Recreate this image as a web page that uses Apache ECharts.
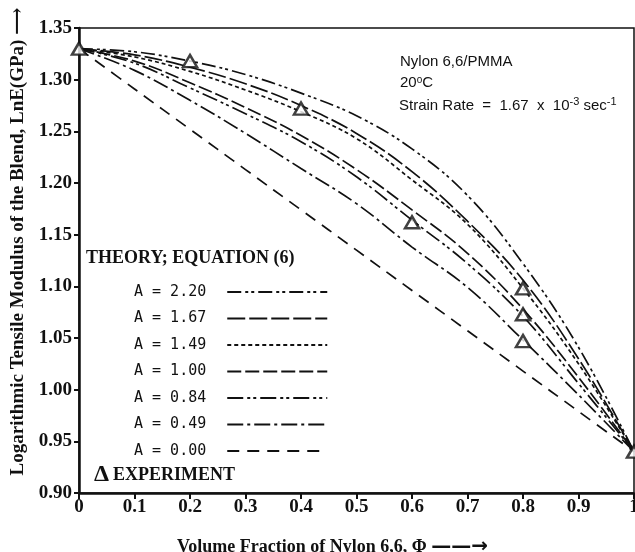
<!DOCTYPE html>
<html>
<head>
<meta charset="utf-8">
<script src="https://cdn.jsdelivr.net/npm/echarts@6/dist/echarts.min.js"></script>
<style>
html,body{margin:0;padding:0;background:#fff;}
#c{width:635px;height:552px;}
</style>
</head>
<body>
<div id="c"></div>
<script>
// Volume fraction of Nylon 6,6
const phi = [0, 0.1, 0.2, 0.3, 0.4, 0.5, 0.6, 0.7, 0.8, 0.9, 1.0];
// Theory curves, ln E (GPa)
const A220 = [1.330, 1.327, 1.318, 1.305, 1.287, 1.265, 1.233, 1.188, 1.122, 1.041, 0.940];
const A167 = [1.330, 1.324, 1.312, 1.296, 1.275, 1.248, 1.211, 1.163, 1.106, 1.030, 0.940];
const A149 = [1.330, 1.322, 1.308, 1.290, 1.269, 1.243, 1.203, 1.160, 1.098, 1.025, 0.940];
const A100 = [1.330, 1.318, 1.297, 1.273, 1.246, 1.213, 1.174, 1.132, 1.078, 1.012, 0.940];
const A084 = [1.330, 1.316, 1.292, 1.267, 1.240, 1.206, 1.164, 1.122, 1.071, 1.006, 0.940];
const A049 = [1.330, 1.309, 1.280, 1.248, 1.214, 1.180, 1.138, 1.099, 1.048, 0.995, 0.940];
const A000 = [1.330, 1.291, 1.252, 1.213, 1.174, 1.135, 1.096, 1.057, 1.018, 0.979, 0.940];
// Experiment
const expX = [0, 0.2, 0.4, 0.6, 0.8, 0.8, 0.8, 1.0];
const expY = [1.330, 1.318, 1.272, 1.162, 1.098, 1.073, 1.047, 0.940];
// labels
const curveNames = ['A = 2.20', 'A = 1.67', 'A = 1.49', 'A = 1.00', 'A = 0.84', 'A = 0.49', 'A = 0.00'];
const curveData = [A220, A167, A149, A100, A084, A049, A000];
const dashes = [[14,4,3,3,3,4],[18,4],[4,3],[14,4],[16,4,3,3,3,4],[16,4,3,4],[12,8]];

const serif = "'Liberation Serif','Times New Roman','DejaVu Serif',serif";
const sans = "'Liberation Sans',Arial,sans-serif";

const series = curveNames.map((n, i) => ({
  name: n,
  type: 'line',
  smooth: 0.4,
  symbol: 'none',
  data: phi.map((x, k) => [x, curveData[i][k]]),
  lineStyle: { color: '#111', width: 1.7, type: dashes[i] },
  itemStyle: { color: '#111' },
  z: 2
}));
series.push({
  name: 'EXPERIMENT',
  type: 'scatter',
  symbol: 'triangle',
  symbolSize: [14, 12],
  data: expX.map((x, k) => [x, expY[k]]),
  itemStyle: { color: '#fff', borderColor: '#111', borderWidth: 2.5 },
  z: 5
});

const chart = echarts.init(document.getElementById('c'));
chart.setOption({
  animation: false,
  backgroundColor: '#fff',
  grid: { left: 79, right: 1, top: 28, bottom: 59, outerBoundsMode: 'none', containLabel: false, show: true, borderColor: '#111', borderWidth: 1.5, backgroundColor: 'transparent' },
  xAxis: {
    type: 'value', min: 0, max: 1, interval: 0.1,
    axisLine: { lineStyle: { color: '#111', width: 2.5 } },
    axisTick: { show: true, length: 6, lineStyle: { color: '#111', width: 2 } },
    splitLine: { show: false },
    axisLabel: {
      color: '#111', fontFamily: serif, fontWeight: 'bold', fontSize: 19, margin: 5,
      formatter: v => (v === 0 ? '0' : (Math.abs(v - 1) < 1e-9 ? '1' : v.toFixed(1)))
    },
    name: '{t|Volume Fraction of Nylon 6,6, \u03A6} {a|\u2014\u2014\u2192}',
    nameLocation: 'middle', nameGap: 44,
    nameTextStyle: {
      color: '#111', fontFamily: serif, fontWeight: 'bold', fontSize: 18, padding: [0, 48, 0, 0],
      rich: {
        t: { color: '#111', fontFamily: serif, fontWeight: 'bold', fontSize: 18 },
        a: { color: '#111', fontFamily: "'DejaVu Sans',sans-serif", fontSize: 20, lineHeight: 20 }
      }
    }
  },
  yAxis: {
    type: 'value', min: 0.9, max: 1.35, interval: 0.05,
    axisLine: { show: true, lineStyle: { color: '#111', width: 2.5 } },
    axisTick: { show: true, length: 5, lineStyle: { color: '#111', width: 2 } },
    splitLine: { show: false },
    axisLabel: {
      color: '#111', fontFamily: serif, fontWeight: 'bold', fontSize: 19, margin: 7,
      formatter: v => v.toFixed(2)
    },
    name: 'Logarithmic Tensile Modulus of the Blend, LnE(GPa) \u27F6',
    nameLocation: 'middle', nameGap: 47, nameRotate: 90,
    nameTextStyle: { color: '#111', fontFamily: serif, fontWeight: 'bold', fontSize: 19, padding: [0, 0, 0, 38] }
  },
  legend: {
    data: curveNames,
    orient: 'vertical',
    left: 129, top: 279,
    align: 'right',
    itemWidth: 100, itemHeight: 16, itemGap: 10.5,
    itemStyle: { opacity: 0, color: 'transparent', borderWidth: 0 },
    textStyle: { color: '#111', fontFamily: "'DejaVu Sans Mono',monospace", fontSize: 15, lineHeight: 16, padding: [0, 16, 0, 0] },
    selectedMode: false
  },
  graphic: [
    { type: 'text', left: 86, top: 249, style: { text: 'THEORY; EQUATION (6)', fill: '#111', font: "bold 18px " + serif } },
    { type: 'text', left: 94, top: 463, style: { text: '\u0394', fill: '#111', font: "bold 24px " + serif } },
    { type: 'text', left: 113, top: 466, style: { text: 'EXPERIMENT', fill: '#111', font: "bold 18px " + serif } },
    { type: 'text', left: 400, top: 54, style: { text: 'Nylon 6,6/PMMA', fill: '#111', font: "15px " + sans } },
    { type: 'text', left: 400, top: 75, style: { rich: { a: { fontSize: 15, fontFamily: sans, fill: '#111' }, s: { fontSize: 10, fontFamily: sans, fill: '#111', verticalAlign: 'top', padding: [0,0,6,0] } }, text: '{a|20}{s|o}{a|C}' } },
    { type: 'text', left: 399, top: 96, style: { rich: { a: { fontSize: 15, fontFamily: sans, fill: '#111' }, s: { fontSize: 11, fontFamily: sans, fill: '#111', padding: [0,0,8,0] } }, text: '{a|Strain Rate  =  1.67  x  10}{s|-3}{a| sec}{s|-1}' } }
  ],
  series: series
});
</script>
</body>
</html>
